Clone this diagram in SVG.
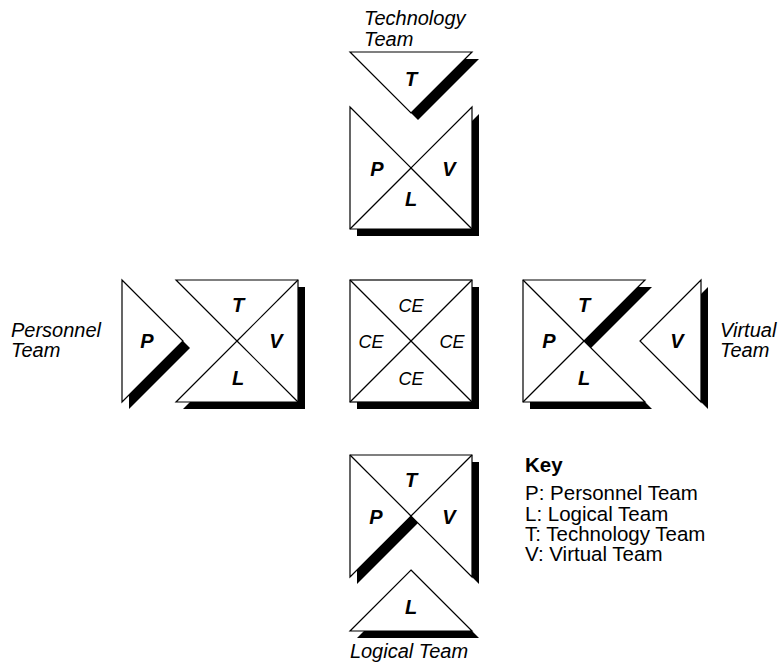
<svg xmlns="http://www.w3.org/2000/svg" width="780" height="669" viewBox="0 0 780 669">
<style>
.sh{fill:#000;stroke:none}
.pc{fill:#fff;stroke:#000;stroke-width:1.2;stroke-linejoin:miter}
.ln{stroke:#000;stroke-width:1.2;fill:none}
.lbl{font-family:"Liberation Sans",Arial,sans-serif;font-style:italic;font-size:20px;fill:#000}
.ltr{font-family:"Liberation Sans",Arial,sans-serif;font-style:italic;font-weight:bold;font-size:20px;fill:#000;text-anchor:middle;dominant-baseline:central}
.ce{font-family:"Liberation Sans",Arial,sans-serif;font-style:italic;font-size:18px;fill:#000;text-anchor:middle;dominant-baseline:central}
.key{font-family:"Liberation Sans",Arial,sans-serif;font-size:20.5px;fill:#000}
.keyt{font-family:"Liberation Sans",Arial,sans-serif;font-size:20.5px;font-weight:bold;fill:#000}
</style>
<rect width="780" height="669" fill="#fff"/>

<g id="technology-team">
  <polygon class="sh" transform="translate(7,7)" points="350,52 472,52 411,113"/>
  <polygon class="pc" points="350,52 472,52 411,113"/>
  <text class="ltr" x="411" y="79">T</text>
  <text class="lbl" x="364" y="25">Technology</text>
  <text class="lbl" x="364" y="46">Team</text>
</g>

<g id="top-square">
  <polygon class="sh" transform="translate(7,7)" points="350,107 411,168 472,107 472,229 350,229"/>
  <polygon class="pc" points="350,107 411,168 472,107 472,229 350,229"/>
  <text class="ltr" x="377" y="169">P</text>
  <text class="ltr" x="449" y="169">V</text>
  <text class="ltr" x="411" y="199">L</text>
</g>

<g id="personnel-team">
  <polygon class="sh" transform="translate(7,7)" points="122,280 183,341 122,402"/>
  <polygon class="pc" points="122,280 183,341 122,402"/>
  <text class="ltr" x="147" y="341">P</text>
  <text class="lbl" x="11" y="337">Personnel</text>
  <text class="lbl" x="11" y="357">Team</text>
</g>

<g id="left-square">
  <polygon class="sh" transform="translate(7,7)" points="176,280 298,280 298,402 176,402 237,341"/>
  <polygon class="pc" points="176,280 298,280 298,402 176,402 237,341"/>
  <text class="ltr" x="238" y="305">T</text>
  <text class="ltr" x="276" y="341">V</text>
  <text class="ltr" x="238" y="378">L</text>
</g>

<g id="center-square">
  <rect class="sh" x="357" y="287" width="122" height="122"/>
  <rect class="pc" x="350" y="280" width="122" height="122"/>
  <text class="ce" x="411" y="306">CE</text>
  <text class="ce" x="371" y="342">CE</text>
  <text class="ce" x="452" y="342">CE</text>
  <text class="ce" x="411" y="379">CE</text>
</g>

<g id="right-square">
  <polygon class="sh" transform="translate(7,7)" points="523,280 645,280 584,341 645,402 523,402"/>
  <polygon class="pc" points="523,280 645,280 584,341 645,402 523,402"/>
  <text class="ltr" x="584" y="305">T</text>
  <text class="ltr" x="549" y="341">P</text>
  <text class="ltr" x="584" y="378">L</text>
</g>

<g id="virtual-team">
  <polygon class="sh" transform="translate(7,7)" points="701,280 701,402 640,341"/>
  <polygon class="pc" points="701,280 701,402 640,341"/>
  <text class="ltr" x="677" y="341">V</text>
  <text class="lbl" x="720" y="337">Virtual</text>
  <text class="lbl" x="720" y="357">Team</text>
</g>

<g id="bottom-square">
  <polygon class="sh" transform="translate(7,7)" points="350,455 472,455 472,577 411,516 350,577"/>
  <polygon class="pc" points="350,455 472,455 472,577 411,516 350,577"/>
  <text class="ltr" x="411" y="480">T</text>
  <text class="ltr" x="376" y="517">P</text>
  <text class="ltr" x="449" y="517">V</text>
</g>

<g id="logical-team">
  <polygon class="sh" transform="translate(7,7)" points="411,570 472,631 350,631"/>
  <polygon class="pc" points="411,570 472,631 350,631"/>
  <text class="ltr" x="411" y="607">L</text>
  <text class="lbl" x="409" y="658" text-anchor="middle">Logical Team</text>
</g>

<g id="connectors">
  <line class="ln" x1="350" y1="229" x2="411" y2="168"/>
  <line class="ln" x1="472" y1="229" x2="411" y2="168"/>
  <line class="ln" x1="298" y1="280" x2="237" y2="341"/>
  <line class="ln" x1="298" y1="402" x2="237" y2="341"/>
  <line class="ln" x1="350" y1="280" x2="472" y2="402"/>
  <line class="ln" x1="472" y1="280" x2="350" y2="402"/>
  <line class="ln" x1="523" y1="280" x2="584" y2="341"/>
  <line class="ln" x1="523" y1="402" x2="584" y2="341"/>
  <line class="ln" x1="350" y1="455" x2="411" y2="516"/>
  <line class="ln" x1="472" y1="455" x2="411" y2="516"/>
</g>

<g id="key">
  <text class="keyt" x="525" y="472">Key</text>
  <text class="key" x="525" y="500">P: Personnel Team</text>
  <text class="key" x="525" y="520.5">L: Logical Team</text>
  <text class="key" x="525" y="541">T: Technology Team</text>
  <text class="key" x="525" y="561">V: Virtual Team</text>
</g>
</svg>
